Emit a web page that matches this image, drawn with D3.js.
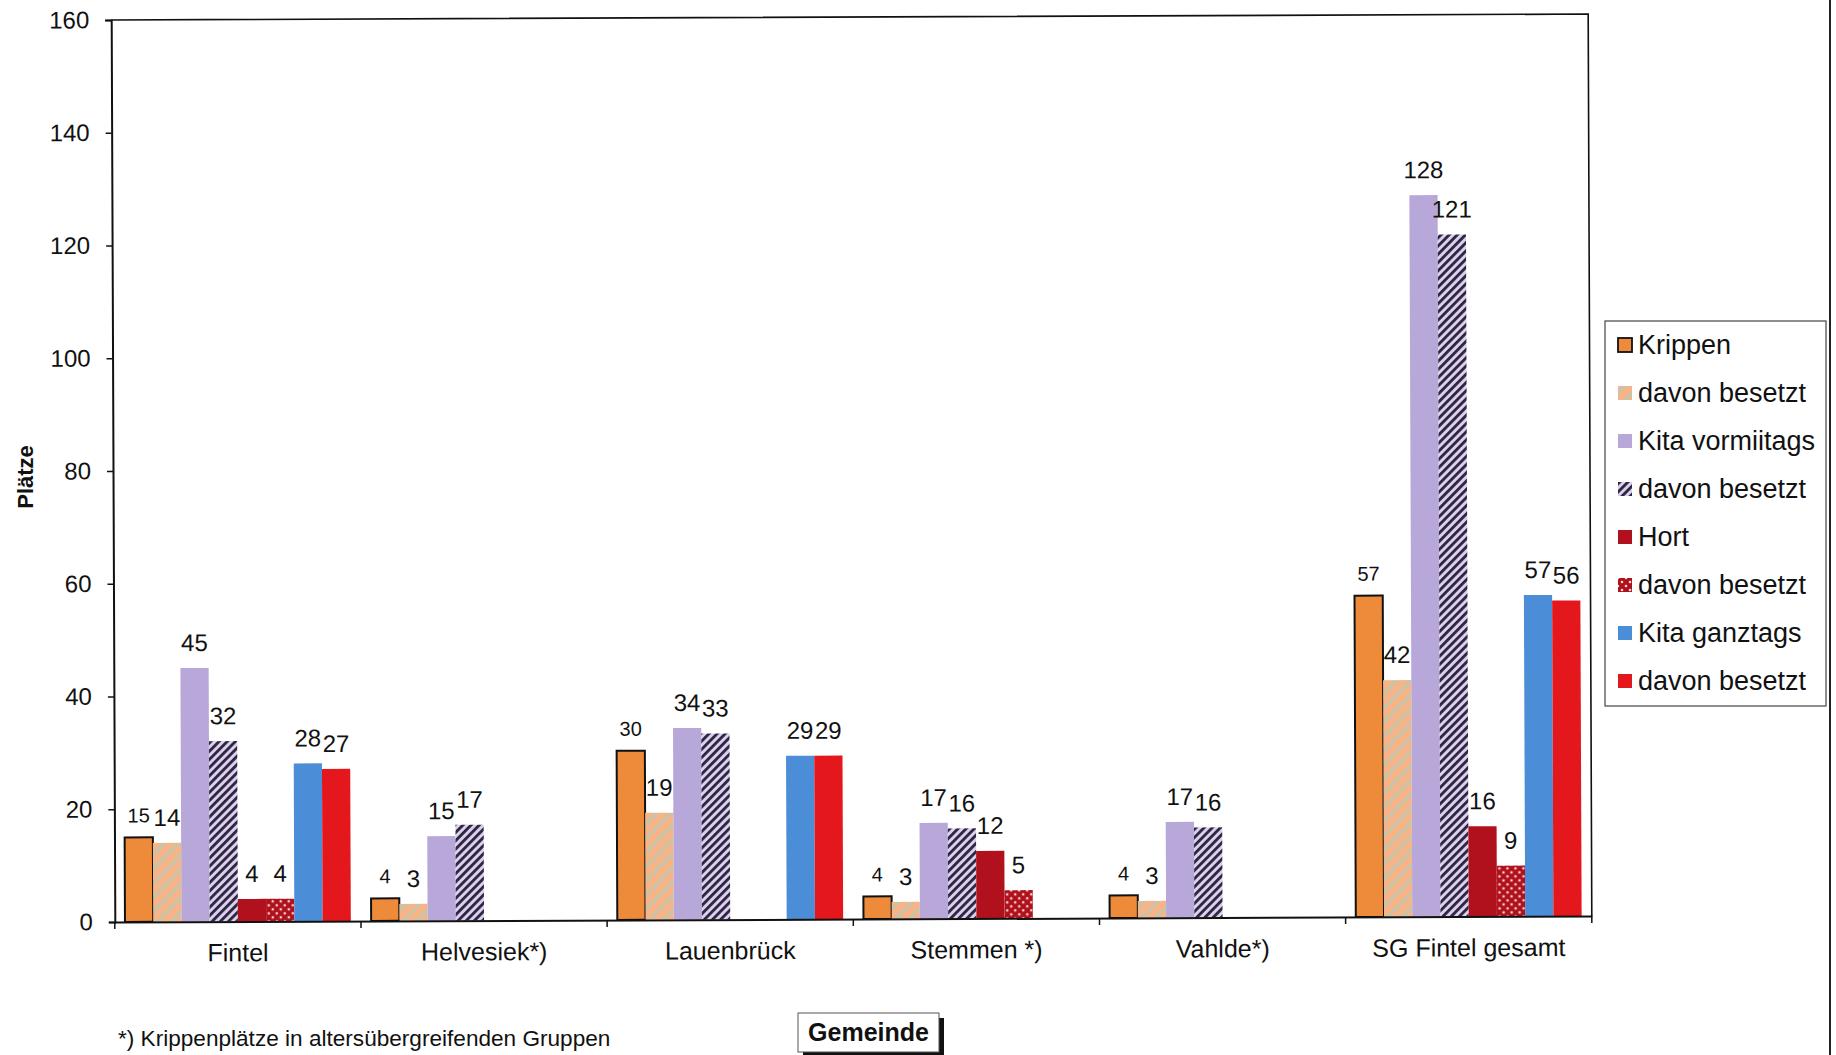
<!DOCTYPE html>
<html>
<head>
<meta charset="utf-8">
<script src="https://cdn.jsdelivr.net/npm/d3@7/dist/d3.min.js"></script>
<style>
  html, body { margin: 0; padding: 0; background: #fff; }
  svg { display: block; font-family: "Liberation Sans", Arial, sans-serif; }
</style>
</head>
<body>
<svg id="chart" width="1836" height="1055"></svg>
<script>
// Gemeinden der Samtgemeinde Fintel
const categories = ["Fintel", "Helvesiek*)", "Lauenbrück", "Stemmen *)", "Vahlde*)", "SG Fintel gesamt"];

// Platzzahlen je Betreuungsart (null = kein Angebot)
const krippen             = [15, 4, 30, 4, 4, 57];
const krippenBesetzt      = [14, 3, 19, 3, 3, 42];
const kitaVormittags      = [45, 15, 34, 17, 17, 128];
const kitaVormBesetzt     = [32, 17, 33, 16, 16, 121];
const hort                = [4, null, null, 12, null, 16];
const hortBesetzt         = [4, null, null, 5, null, 9];
const kitaGanztags        = [28, null, 29, null, null, 57];
const kitaGanzBesetzt     = [27, null, 29, null, null, 56];

const seriesNames = ["Krippen", "davon besetzt", "Kita vormiitags", "davon besetzt",
                     "Hort", "davon besetzt", "Kita ganztags", "davon besetzt"];
const yTicks = [0, 20, 40, 60, 80, 100, 120, 140, 160];

const footnote = "*) Krippenplätze in altersübergreifenden Gruppen";
const xTitle = "Gemeinde";
const yTitle = "Plätze";

const seriesValues = [krippen, krippenBesetzt, kitaVormittags, kitaVormBesetzt,
                      hort, hortBesetzt, kitaGanztags, kitaGanzBesetzt];

// Darstellung je Reihe: Füllung (Farbe oder Muster), Rahmen, Beschriftungsgröße
const seriesStyle = [
  { fill: "#EE8B3A", stroke: "#111", sw: 2, label: 20 },
  { fill: "url(#pKrippeB)", stroke: "none", sw: 0, label: 24 },
  { fill: "#B8A7D9", stroke: "none", sw: 0, label: 24 },
  { fill: "url(#pKitaB)", stroke: "none", sw: 0, label: 24 },
  { fill: "#B1111C", stroke: "none", sw: 0, label: 24 },
  { fill: "url(#pHortB)", stroke: "none", sw: 0, label: 24 },
  { fill: "#4B8ED7", stroke: "none", sw: 0, label: 24 },
  { fill: "#E3171C", stroke: "none", sw: 0, label: 24 }
];

const svg = d3.select("#chart");
const defs = svg.append("defs");

// Schraffur: Krippen, davon besetzt
const p1 = defs.append("pattern").attr("id", "pKrippeB")
  .attr("patternUnits", "userSpaceOnUse").attr("width", 10).attr("height", 10)
  .attr("patternTransform", "rotate(45)");
p1.append("rect").attr("width", 10).attr("height", 10).attr("fill", "#F6B487");
p1.append("rect").attr("x", 0).attr("width", 3.5).attr("height", 10).attr("fill", "#CBC3A8");

// Schraffur: Kita vormittags, davon besetzt
const p2 = defs.append("pattern").attr("id", "pKitaB")
  .attr("patternUnits", "userSpaceOnUse").attr("width", 5.8).attr("height", 10)
  .attr("patternTransform", "rotate(45)");
p2.append("rect").attr("width", 5.8).attr("height", 10).attr("fill", "#DCD0EC");
p2.append("rect").attr("x", 0).attr("width", 2.8).attr("height", 10).attr("fill", "#2B2440");

// Punkte: Hort, davon besetzt
const p3 = defs.append("pattern").attr("id", "pHortB")
  .attr("patternUnits", "userSpaceOnUse").attr("width", 8).attr("height", 8);
p3.append("rect").attr("width", 8).attr("height", 8).attr("fill", "#B0101B");
p3.append("circle").attr("cx", 2).attr("cy", 2).attr("r", 1.3).attr("fill", "#F6D6D6");
p3.append("circle").attr("cx", 6).attr("cy", 6).attr("r", 1.3).attr("fill", "#F6D6D6");

// Diagrammfläche
const plotLeft = 113, plotRight = 1590, plotTop = 20, plotBottom = 922;

const x0 = d3.scaleBand().domain(categories).range([plotLeft, plotRight]).paddingInner(0).paddingOuter(0);
const x1 = d3.scaleBand().domain(d3.range(seriesNames.length))
  .range([0, x0.bandwidth()]).paddingInner(0).paddingOuter(0.36);
const y = d3.scaleLinear().domain([0, 160]).range([plotBottom, plotTop]);

const plot = svg.append("g").attr("transform", `rotate(-0.23, ${plotLeft}, 470)`);

// Rahmen der Zeichenfläche (oben, rechts)
plot.append("path")
  .attr("d", `M${plotLeft},${plotTop}H${plotRight}V${plotBottom}`)
  .attr("fill", "none").attr("stroke", "#111").attr("stroke-width", 1.6);

// Balken
const groups = plot.selectAll("g.cat").data(categories).join("g")
  .attr("class", "cat").attr("transform", d => `translate(${x0(d)},0)`);

groups.each(function(cat, ci) {
  const g = d3.select(this);
  seriesValues.forEach((vals, si) => {
    const v = vals[ci];
    if (v == null) return;
    const st = seriesStyle[si];
    g.append("rect")
      .attr("x", x1(si)).attr("width", x1.bandwidth())
      .attr("y", y(v)).attr("height", y(0) - y(v))
      .attr("fill", st.fill)
      .attr("stroke", st.stroke).attr("stroke-width", st.sw);
    g.append("text")
      .attr("x", x1(si) + x1.bandwidth() / 2)
      .attr("y", y(v) - (st.label < 24 ? 15 : 17))
      .attr("text-anchor", "middle")
      .attr("font-size", st.label)
      .attr("fill", "#111")
      .text(v);
  });
});

// y-Achse
const yAxis = d3.axisLeft(y).tickValues(yTicks).tickSize(6).tickPadding(16);
const yg = plot.append("g").attr("transform", `translate(${plotLeft},0)`).call(yAxis);
yg.select(".domain").attr("stroke", "#111").attr("stroke-width", 2);
yg.selectAll(".tick line").attr("stroke", "#111").attr("stroke-width", 1.5);
yg.selectAll(".tick text").attr("font-size", 24).attr("fill", "#111")
  .attr("font-family", "Liberation Sans, Arial, sans-serif");

// x-Achse mit Teilstrichen an den Gruppengrenzen
const xAxis = d3.axisBottom(x0).tickSize(0).tickPadding(22);
const xg = plot.append("g").attr("transform", `translate(0,${plotBottom})`).call(xAxis);
xg.select(".domain").attr("stroke", "#111").attr("stroke-width", 2);
xg.selectAll(".tick text").attr("font-size", 25).attr("fill", "#111")
  .attr("font-family", "Liberation Sans, Arial, sans-serif");
const boundaries = categories.map(c => x0(c)).concat([x0(categories[categories.length - 1]) + x0.bandwidth()]);
xg.selectAll("line.sep").data(boundaries).join("line").attr("class", "sep")
  .attr("x1", d => d).attr("x2", d => d).attr("y1", 0).attr("y2", 7)
  .attr("stroke", "#111").attr("stroke-width", 1.5);

// Achsentitel
svg.append("text")
  .attr("transform", "translate(33,477) rotate(-90)")
  .attr("text-anchor", "middle")
  .attr("font-size", 22).attr("font-weight", "bold").attr("fill", "#111")
  .text(yTitle);

const tb = svg.append("g").attr("transform", "translate(798,1013)");
tb.append("rect").attr("x", 5).attr("y", 5).attr("width", 141).attr("height", 40).attr("fill", "#111");
tb.append("rect").attr("x", 0).attr("y", 0).attr("width", 141).attr("height", 39)
  .attr("fill", "#fff").attr("stroke", "#555").attr("stroke-width", 1);
tb.append("text").attr("x", 70.5).attr("y", 28).attr("text-anchor", "middle")
  .attr("font-size", 25).attr("font-weight", "bold").attr("fill", "#111").text(xTitle);

// Fußnote
svg.append("text").attr("x", 118).attr("y", 1046)
  .attr("font-size", 22.6).attr("fill", "#111").text(footnote);

// Legende
const lg = svg.append("g");
lg.append("rect").attr("x", 1605).attr("y", 321).attr("width", 221).attr("height", 385)
  .attr("fill", "#fff").attr("stroke", "#444").attr("stroke-width", 1.2);
seriesNames.forEach((name, i) => {
  const cy = 345 + i * 48;
  const st = seriesStyle[i];
  lg.append("rect").attr("x", 1618).attr("y", cy - 7).attr("width", 14).attr("height", 14)
    .attr("fill", st.fill).attr("stroke", st.stroke).attr("stroke-width", st.sw ? 1.8 : 0);
  lg.append("text").attr("x", 1638).attr("y", cy + 9)
    .attr("font-size", 27).attr("fill", "#111").text(name);
});

// äußerer Rahmen rechts
svg.append("line").attr("x1", 1830).attr("x2", 1830).attr("y1", 0).attr("y2", 1055)
  .attr("stroke", "#222").attr("stroke-width", 2);
</script>
</body>
</html>
